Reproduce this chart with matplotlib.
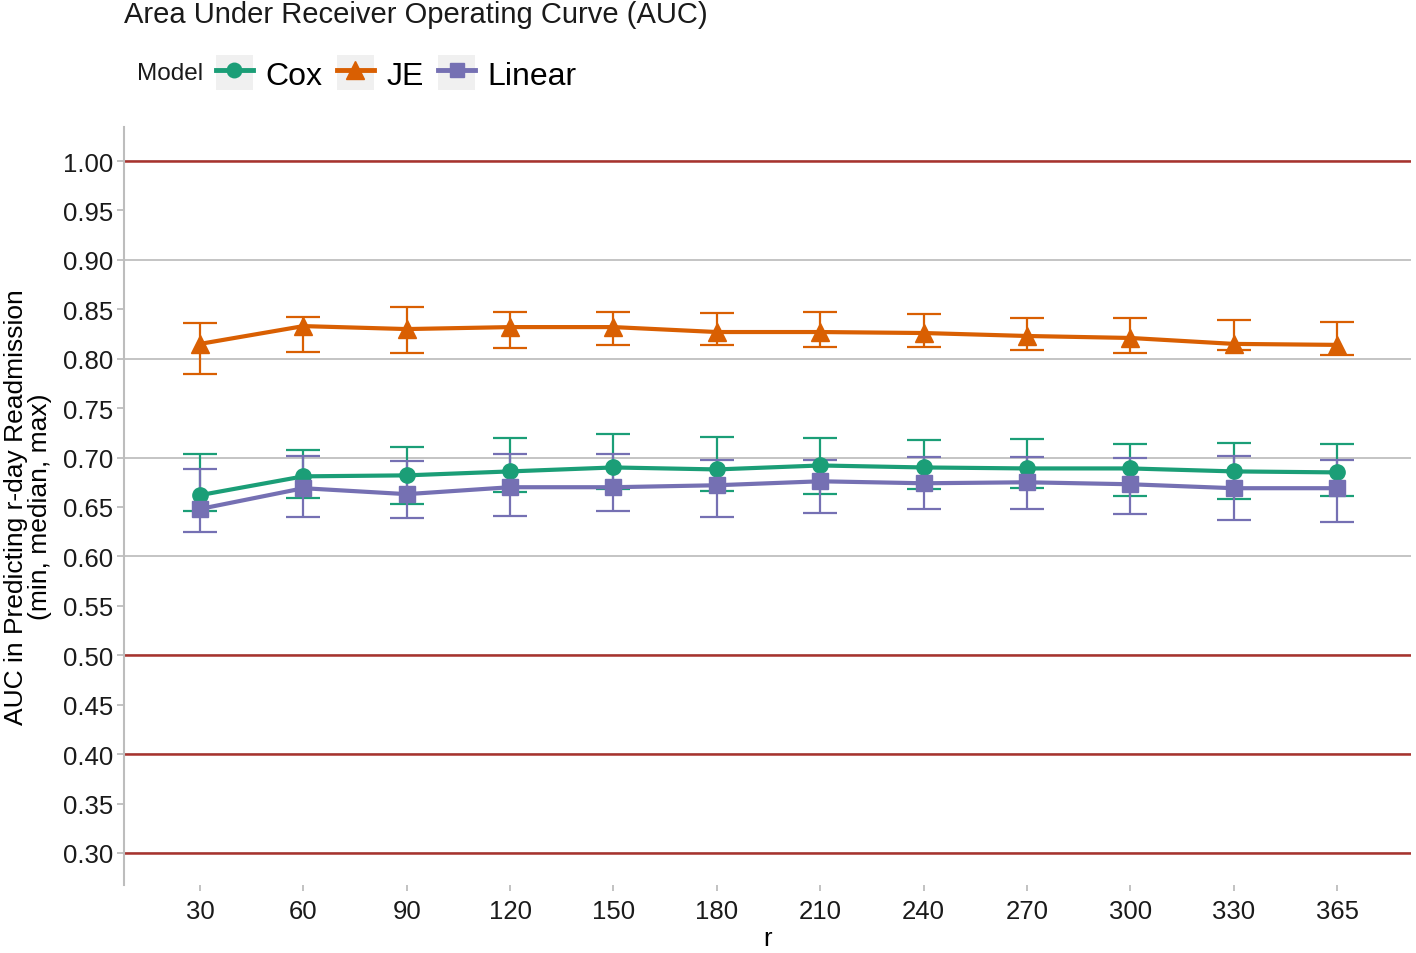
import matplotlib
matplotlib.use("Agg")
import matplotlib.pyplot as plt
from matplotlib.lines import Line2D
from matplotlib.patches import Rectangle
from matplotlib.legend_handler import HandlerTuple
import numpy as np

plt.rcParams['font.family'] = ['Liberation Sans', 'DejaVu Sans']

# horizon r (days)
r_days = ['30', '60', '90', '120', '150', '180', '210', '240', '270', '300', '330', '365']

# AUC median / min / max per model
cox_med = [0.662, 0.681, 0.682, 0.686, 0.690, 0.688, 0.692, 0.690, 0.689, 0.689, 0.686, 0.685]
cox_min = [0.646, 0.659, 0.653, 0.665, 0.668, 0.666, 0.663, 0.668, 0.669, 0.661, 0.658, 0.661]
cox_max = [0.704, 0.708, 0.711, 0.720, 0.724, 0.721, 0.720, 0.718, 0.719, 0.714, 0.715, 0.714]

je_med = [0.815, 0.833, 0.830, 0.832, 0.832, 0.827, 0.827, 0.826, 0.823, 0.821, 0.815, 0.814]
je_min = [0.785, 0.807, 0.806, 0.811, 0.814, 0.814, 0.812, 0.812, 0.809, 0.806, 0.809, 0.804]
je_max = [0.836, 0.842, 0.852, 0.847, 0.847, 0.846, 0.847, 0.845, 0.841, 0.841, 0.839, 0.837]

lin_med = [0.648, 0.669, 0.663, 0.670, 0.670, 0.672, 0.676, 0.674, 0.675, 0.673, 0.669, 0.669]
lin_min = [0.625, 0.640, 0.639, 0.641, 0.646, 0.640, 0.644, 0.648, 0.648, 0.643, 0.637, 0.635]
lin_max = [0.688, 0.702, 0.697, 0.704, 0.704, 0.698, 0.698, 0.701, 0.701, 0.700, 0.702, 0.698]

ref_lines = [1.0, 0.5, 0.4, 0.3]

models = [
    ('Cox', cox_med, cox_min, cox_max, '#1b9e77', 'o', 11),
    ('JE', je_med, je_min, je_max, '#d95f02', '^', 13),
    ('Linear', lin_med, lin_min, lin_max, '#7570b3', 's', 11),
]

fig = plt.figure(figsize=(14.16, 9.54), dpi=100)
ax = fig.add_axes([0.0876, 0.0713, 0.9089, 0.7945])

x = np.arange(len(r_days))

ax.set_yticks(np.arange(0.30, 1.001, 0.05))
ax.set_yticklabels([f'{v:.2f}' for v in np.arange(0.30, 1.001, 0.05)])
for g in np.arange(0.3, 1.001, 0.1):
    ax.axhline(g, color='#c4c4c4', lw=1.4, zorder=0)
for h in ref_lines:
    ax.axhline(h, color='#a8322d', lw=1.8, zorder=1)

for name, med, lo, hi, col, mk, ms in models:
    med = np.array(med)
    err = [med - np.array(lo), np.array(hi) - med]
    ax.errorbar(x, med, yerr=err, fmt='none', ecolor=col, elinewidth=1.6,
                capsize=12, capthick=1.6, zorder=2)

handles = []
for name, med, lo, hi, col, mk, ms in models:
    ax.plot(x, med, color=col, lw=3, zorder=3)
    ax.plot(x, med, linestyle='none', marker=mk, markersize=ms, color=col, zorder=4)
    bg = Rectangle((0, 0), 1, 1, facecolor='#f0f0f0', edgecolor='none')
    ln = Line2D([], [], color=col, lw=3.5, marker=mk, markersize=ms * 0.95)
    handles.append((bg, ln))

ax.set_xlim(-0.735, 11.716)
ax.set_ylim(0.2676, 1.0344)
ax.set_xticks(x)
ax.set_xticklabels(r_days)

for s in ['top', 'right', 'bottom']:
    ax.spines[s].set_visible(False)
ax.spines['left'].set_color('#bdbdbd')
ax.spines['left'].set_linewidth(1.5)
ax.tick_params(axis='y', colors='#bdbdbd', length=5, width=1.3, pad=3, labelsize=18.5, labelcolor='#1a1a1a')
ax.tick_params(axis='x', colors='#bdbdbd', length=4, width=1.3, pad=6, labelsize=18.5, labelcolor='#1a1a1a')

ax.set_xlabel('r', fontsize=18.5, labelpad=2)
ax.set_ylabel('AUC in Predicting r-day Readmission\n(min, median, max)', fontsize=19,
              linespacing=1.0, labelpad=8)

fig.text(124 / 1416, 1 - 15 / 954, 'Area Under Receiver Operating Curve (AUC)',
         fontsize=21, va='center', ha='left', color='#1a1a1a')
fig.text(137 / 1416, 1 - 74 / 954, 'Model', fontsize=17.5, va='center', ha='left', color='#1a1a1a')

fig.legend(handles, [m[0] for m in models], handler_map={tuple: HandlerTuple(ndivide=1, pad=0)},
           loc='center left', bbox_to_anchor=(216 / 1416, 1 - 74 / 954), ncol=3,
           frameon=False, fontsize=23, borderpad=0, borderaxespad=0,
           handlelength=1.15, handleheight=1.3, handletextpad=0.4, columnspacing=0.45)

fig.savefig('out.png', dpi=100)
